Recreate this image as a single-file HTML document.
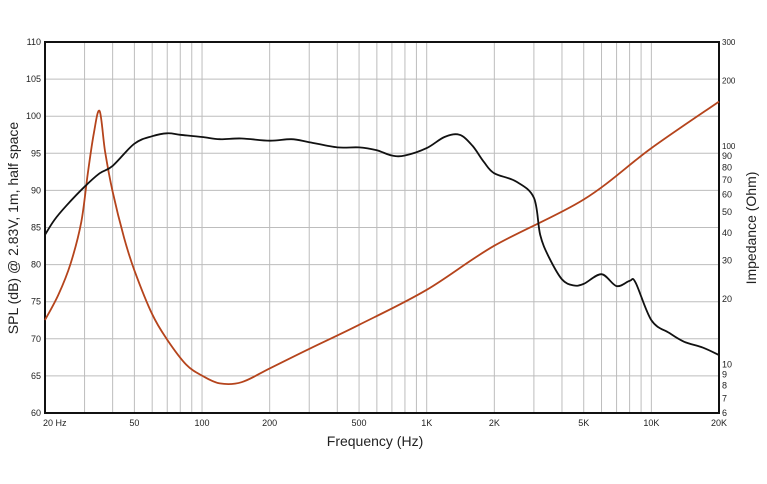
<!DOCTYPE html>
<html><head><meta charset="utf-8"><style>
html,body{margin:0;padding:0;background:#fff;width:767px;height:484px;overflow:hidden}
text{font-family:"Liberation Sans",sans-serif}
</style></head><body>
<svg id="chart" width="767" height="484" xmlns="http://www.w3.org/2000/svg"></svg>
<script>
const splFreq=[20,22,25,30,35,40,50,60,70,80,100,120,150,200,250,300,400,500,600,700,800,1000,1200,1400,1600,1800,2000,2500,3000,3200,3500,4000,4500,5000,6000,7000,8000,8500,10000,12000,14000,17000,20000];
const splDb=[84,86,88,90.5,92.3,93.3,96.3,97.3,97.7,97.5,97.2,96.9,97,96.7,96.9,96.5,95.8,95.8,95.4,94.7,94.7,95.7,97.2,97.5,96,93.8,92.3,91.2,89,84,81,78,77.2,77.4,78.7,77.1,77.8,77.6,72.5,70.8,69.6,68.8,67.8];
const impFreq=[20,23,26,29,31,33,35,37,40,45,50,60,70,85,100,120,150,200,300,500,1000,2000,5000,10000,20000];
const impOhm=[16,21,29,45,75,115,145,95,62,38,27,17,13,10,8.9,8.2,8.3,9.6,11.8,15.2,22,35,57,98,160];
const dbTicks=[60,65,70,75,80,85,90,95,100,105,110];
const fTicks=[20,50,100,200,500,1000,2000,5000,10000,20000];
const fTickLabels=["20  Hz","50","100","200","500","1K","2K","5K","10K","20K"];
const zTicks=[6,7,8,9,10,20,30,40,50,60,70,80,90,100,200,300];
const L=45,R=719,T=42,B=413;
const x=f=>L+(R-L)*Math.log10(f/20)/3;
const yDb=d=>B-(B-T)*(d-60)/50;
const yZ=z=>B-(B-T)*Math.log10(z/6)/Math.log10(50);
const svg=document.getElementById('chart');
const NS='http://www.w3.org/2000/svg';
function mk(tag,attrs,txt){const e=document.createElementNS(NS,tag);for(const k in attrs)e.setAttribute(k,attrs[k]);if(txt!=null)e.textContent=txt;svg.appendChild(e);return e;}
function smooth(p){let d='M'+p[0][0].toFixed(1)+','+p[0][1].toFixed(1);
for(let i=0;i<p.length-1;i++){const p0=p[i-1]||p[i],p1=p[i],p2=p[i+1],p3=p[i+2]||p2;
const c1=[p1[0]+(p2[0]-p0[0])/6,p1[1]+(p2[1]-p0[1])/6],c2=[p2[0]-(p3[0]-p1[0])/6,p2[1]-(p3[1]-p1[1])/6];
d+='C'+c1[0].toFixed(1)+','+c1[1].toFixed(1)+' '+c2[0].toFixed(1)+','+c2[1].toFixed(1)+' '+p2[0].toFixed(1)+','+p2[1].toFixed(1);}
return d;}
for(let dec=10;dec<=10000;dec*=10){for(let m=1;m<10;m++){const f=dec*m;if(f<20||f>20000)continue;
const g=mk('line',{x1:x(f),x2:x(f),y1:T,y2:B,stroke:'#bdbdbd','stroke-width':1});

}}
dbTicks.forEach(d=>{const g=mk('line',{x1:L,x2:R,y1:yDb(d),y2:yDb(d),stroke:'#bdbdbd','stroke-width':1});


const t=mk('text',{x:L-4,y:yDb(d)+3,'text-anchor':'end','font-size':9,fill:'#222'},d);

});
fTicks.forEach((f,i)=>{const t=mk('text',{x:i==0?x(f)-2:x(f),y:B+13,'text-anchor':i==0?'start':'middle','font-size':9,fill:'#222','xml:space':'preserve'},fTickLabels[i]);

});
zTicks.forEach(z=>{const t=mk('text',{x:R+3,y:yZ(z)+3,'font-size':z>=100?8:9,fill:'#222'},z);

});
const frame=mk('rect',{x:L,y:T,width:R-L,height:B-T,fill:'none',stroke:'#111','stroke-width':2});


const imp=mk('path',{d:smooth(impFreq.map((f,i)=>[x(f),yZ(impOhm[i])])),fill:'none',stroke:'#b5441c','stroke-width':1.8,'stroke-linejoin':'round'});


const spl=mk('path',{d:smooth(splFreq.map((f,i)=>[x(f),yDb(splDb[i])])),fill:'none',stroke:'#111','stroke-width':1.8,'stroke-linejoin':'round'});


const xt=mk('text',{x:375,y:446,'text-anchor':'middle','font-size':14,fill:'#222'},'Frequency (Hz)');


const yl=mk('text',{x:0,y:0,'text-anchor':'middle','font-size':14,fill:'#222',transform:'translate(18,228) rotate(-90)'},'SPL (dB) @ 2.83V, 1m, half space');


const yr=mk('text',{x:0,y:0,'text-anchor':'middle','font-size':14,fill:'#222',transform:'translate(756,228) rotate(-90)'},'Impedance (Ohm)');


</script>
</body></html>
